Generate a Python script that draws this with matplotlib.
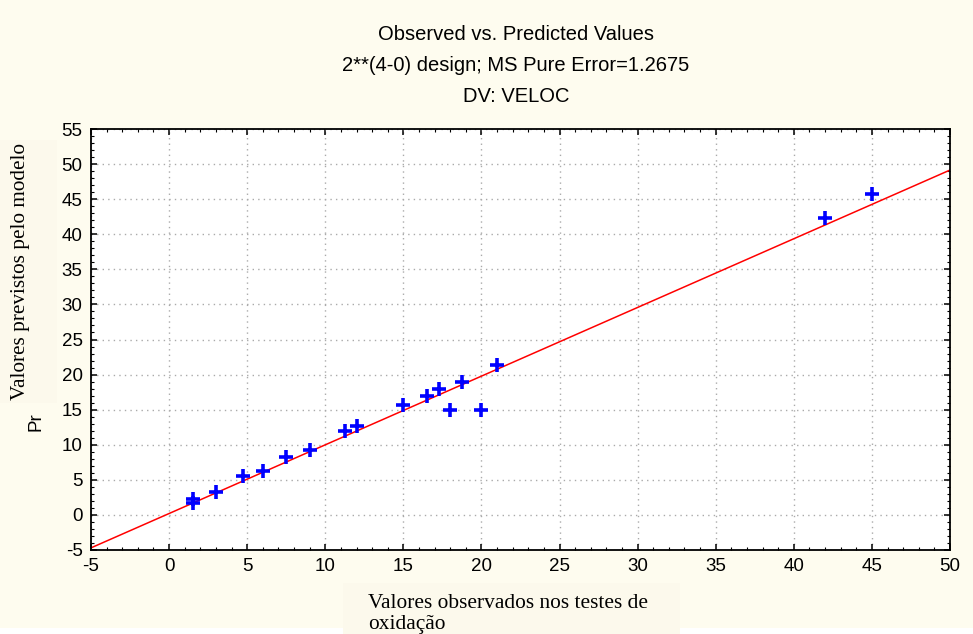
import matplotlib
matplotlib.use("Agg")
import matplotlib.pyplot as plt
from matplotlib.ticker import MultipleLocator
from matplotlib.patches import Rectangle
import numpy as np

plt.rcParams['axes.unicode_minus'] = False

# observed vs predicted
observed = [1.5, 1.5, 3.0, 4.75, 6.0, 7.5, 9.0, 11.25, 12.0, 15.0,
            16.5, 17.25, 18.0, 18.75, 20.0, 21.0, 42.0, 45.0]
predicted = [2.2, 1.7, 3.2, 5.5, 6.3, 8.2, 9.3, 12.0, 12.7, 15.7,
             16.9, 18.0, 15.0, 19.0, 15.0, 21.3, 42.3, 45.8]

# fitted line
fit_intercept = 0.2
fit_slope = 0.979

title_lines = ["Observed vs. Predicted Values",
               "2**(4-0) design; MS Pure Error=1.2675",
               "DV: VELOC"]

W, H = 973, 634
BG = '#FEFCEF'
BOX = '#FCF9EC'

fig = plt.figure(figsize=(9.73, 6.34), dpi=100, facecolor=BG)
ax = fig.add_axes([91/W, 84/H, 859/W, 421/H])
ax.set_facecolor('white')

xs = np.array([-5, 50])
ax.plot(xs, fit_intercept + fit_slope * xs, color='red', lw=1.1, zorder=2)
ax.plot(observed, predicted, linestyle='none', marker='+', color='#0000FF',
        markersize=10, markeredgewidth=2.6, zorder=3)

ax.set_xlim(-5, 50)
ax.set_ylim(-5, 55)
ax.xaxis.set_major_locator(MultipleLocator(5))
ax.yaxis.set_major_locator(MultipleLocator(5))
ax.xaxis.set_minor_locator(MultipleLocator(1))
ax.yaxis.set_minor_locator(MultipleLocator(1))
ax.tick_params(which='both', direction='in', top=True, right=True, color='black')
ax.tick_params(which='major', length=4.5, width=1.1, labelsize=13.5, pad=6)
ax.tick_params(which='minor', length=2.5, width=0.8)
for lab in ax.get_xticklabels() + ax.get_yticklabels():
    lab.set_family('Liberation Sans')
ax.grid(True, which='major', linestyle=(0, (1, 3)), color='#AAAAAA', lw=1.0)
for s in ax.spines.values():
    s.set_linewidth(1.3)

for i, t in enumerate(title_lines):
    fig.text(516/W, 1 - (35 + 30.5 * i) / H, t, ha='center', va='center',
             fontsize=14.5, family='Liberation Sans')

# label boxes (pasted over the original axis titles)
fig.patches.append(Rectangle((0, 1 - 403/H), 57/W, 263/H, transform=fig.transFigure,
                             fc=BOX, ec='none', zorder=0))
fig.patches.append(Rectangle((0, 0), 343/W, 6/H, transform=fig.transFigure,
                             fc='white', ec='none', zorder=0))
fig.patches.append(Rectangle((680/W, 0), 293/W, 6/H, transform=fig.transFigure,
                             fc='white', ec='none', zorder=0))
fig.patches.append(Rectangle((343/W, 0), 337/W, 51/H, transform=fig.transFigure,
                             fc=BOX, ec='none', zorder=0))

# partially hidden axis label
fig.text(36/W, 1 - 422/H, "Pr", rotation=90, ha='center', va='center',
         fontsize=13.5, family='Liberation Sans')
fig.text(21/W, 1 - 272/H, "Valores previstos pelo modelo", rotation=90,
         ha='center', va='center', fontsize=15.3, family='Liberation Serif')

fig.text(368/W, 1 - 614/H, "Valores observados nos testes de\noxidação",
         ha='left', va='center', fontsize=15.4, family='Liberation Serif',
         linespacing=1.12)

fig.savefig('out.png', dpi=100, facecolor=BG)
